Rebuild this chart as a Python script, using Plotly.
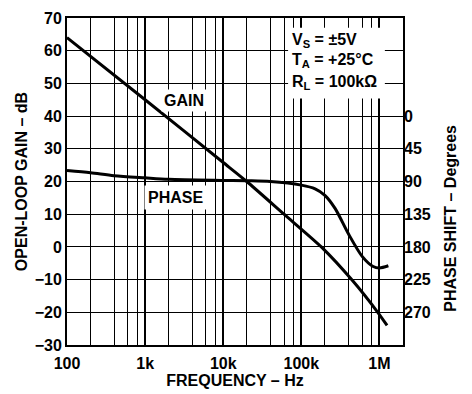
import math
import plotly.graph_objects as go

# ---- data ----
gain_freq = [100, 1000, 10000, 20000, 60000, 180000, 440000, 950000, 1250000]
gain_db = [64.0, 45.0, 25.8, 20.0, 10.0, 0.0, -10.0, -20.0, -24.0]

phase_freq = [100, 200, 400, 1000, 2000, 10000, 20000, 40000, 100000, 150000,
              200000, 270000, 400000, 600000, 830000, 1000000, 1300000]
phase_deg = [75, 78, 82, 85, 87, 88.5, 89, 90, 95, 100,
             109, 127, 162, 193, 207, 209, 206]

x_tick_vals = [100, 1000, 10000, 100000, 1000000]
x_tick_text = ["100", "1k", "10k", "100k", "1M"]
x_minor_vals = [m * d for d in [100, 1000, 10000, 100000] for m in (2, 4, 6, 8)]
gain_ticks = list(range(-30, 71, 10))
phase_ticks = [0, 45, 90, 135, 180, 225, 270]

FONT = "Liberation Sans, Arial, sans-serif"

fig = go.Figure()
fig.add_trace(go.Scatter(x=gain_freq, y=gain_db, mode="lines",
                         line=dict(color="black", width=3, shape="spline", smoothing=0.6),
                         showlegend=False, hoverinfo="skip"))
fig.add_trace(go.Scatter(x=phase_freq, y=phase_deg, mode="lines", yaxis="y2",
                         line=dict(color="black", width=3, shape="spline", smoothing=0.8),
                         showlegend=False, hoverinfo="skip"))

tickfont = dict(family=FONT, size=16, color="black", weight="bold")
titlefont = dict(family=FONT, size=16, color="black", weight="bold")

fig.update_layout(
    width=472, height=394,
    margin=dict(l=67, r=69, t=10, b=46),
    paper_bgcolor="white", plot_bgcolor="white",
    font=dict(family=FONT, color="black"),
    xaxis=dict(
        type="log", range=[2, math.log10(2e6)],
        tickmode="array", tickvals=x_tick_vals, ticktext=x_tick_text,
        tickfont=tickfont, ticks="", ticklabelstandoff=3,
        showgrid=True, gridcolor="black", gridwidth=2,
        minor=dict(tickmode="array", tickvals=x_minor_vals, showgrid=True,
                   gridcolor="black", gridwidth=1.3, ticks=""),
        showline=True, linecolor="black", linewidth=2, mirror=True,
        zeroline=False,
        title=dict(text="FREQUENCY – Hz", font=titlefont, standoff=1),
    ),
    yaxis=dict(
        range=[-30, 70], tickmode="array", tickvals=gain_ticks,
        tickfont=tickfont, ticks="",
        showgrid=True, gridcolor="black", gridwidth=1.3,
        showline=True, linecolor="black", linewidth=2, mirror=True,
        zeroline=False,
        title=dict(text="OPEN-LOOP GAIN – dB", font=titlefont, standoff=3),
    ),
    yaxis2=dict(
        overlaying="y", side="right", range=[315, -135],
        tickmode="array", tickvals=phase_ticks, tickfont=tickfont, ticks="",
        showgrid=False, zeroline=False, showline=False,
    ),
    shapes=[dict(type="rect", xref="paper", yref="paper",
                 x0=0.658, x1=0.946, y0=0.754, y1=0.970,
                 fillcolor="white", line=dict(width=0), layer="above")],
)

ann_font = dict(family=FONT, size=16, color="black", weight="bold")
fig.add_annotation(x=(184 - 67) / 336, y=(348 - 95) / 338, xref="paper", yref="paper",
                   text="GAIN", showarrow=False, font=ann_font, bgcolor="white",
                   borderpad=2, xanchor="center", yanchor="middle")
fig.add_annotation(x=(175.5 - 67) / 336, y=(348 - 196) / 338, xref="paper", yref="paper",
                   text="PHASE", showarrow=False, font=ann_font, bgcolor="white",
                   borderpad=3, xanchor="center", yanchor="middle")
for txt, yp in [("V<sub>S</sub> = ±5V", 37), ("T<sub>A</sub> = +25°C", 58.5),
                ("R<sub>L</sub> = 100kΩ", 80.5)]:
    fig.add_annotation(x=(290 - 67) / 336, y=(348 - yp) / 338, xref="paper", yref="paper",
                       text=txt, showarrow=False, font=ann_font,
                       xanchor="left", yanchor="middle", yshift=4)
fig.add_annotation(x=(451 - 67) / 336, y=(348 - 217.5) / 338, xref="paper", yref="paper",
                   text="PHASE SHIFT – Degrees", textangle=-90, showarrow=False,
                   font=titlefont, xanchor="center", yanchor="middle")

fig.write_html("out.html")
